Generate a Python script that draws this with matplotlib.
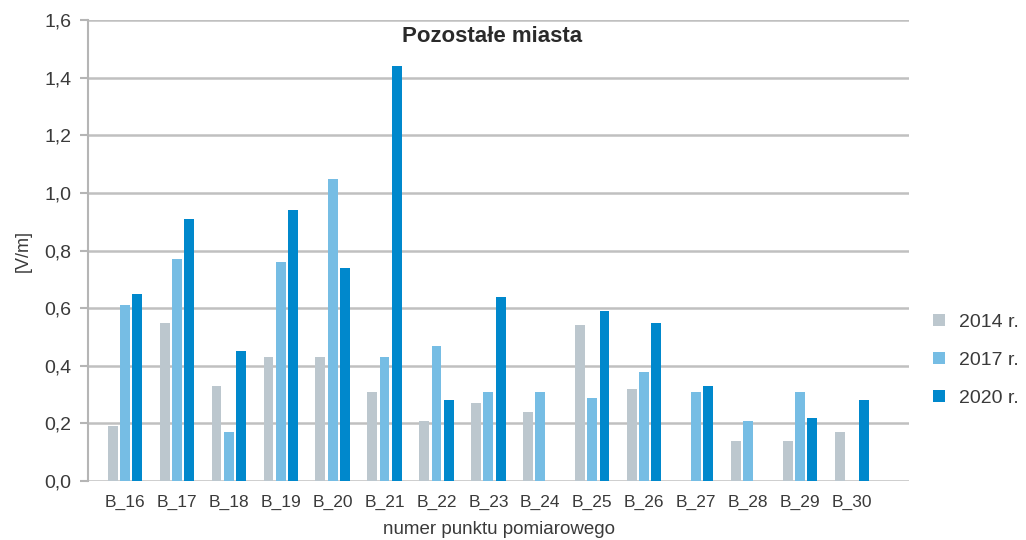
import matplotlib.pyplot as plt
import numpy as np

plt.rcParams['font.family'] = ['Liberation Sans', 'DejaVu Sans']

categories = ['B_16', 'B_17', 'B_18', 'B_19', 'B_20', 'B_21', 'B_22', 'B_23',
              'B_24', 'B_25', 'B_26', 'B_27', 'B_28', 'B_29', 'B_30']
v2014 = [0.19, 0.55, 0.33, 0.43, 0.43, 0.31, 0.21, 0.27, 0.24, 0.54, 0.32, np.nan, 0.14, 0.14, 0.17]
v2017 = [0.61, 0.77, 0.17, 0.76, 1.05, 0.43, 0.47, 0.31, 0.31, 0.29, 0.38, 0.31, 0.21, 0.31, np.nan]
v2020 = [0.65, 0.91, 0.45, 0.94, 0.74, 1.44, 0.28, 0.64, np.nan, 0.59, 0.55, 0.33, np.nan, 0.22, 0.28]
series = ['2014 r.', '2017 r.', '2020 r.']
colors = ['#bcc7ce', '#76bde4', '#0088cc']
yticks = [0.0, 0.2, 0.4, 0.6, 0.8, 1.0, 1.2, 1.4, 1.6]

txt = '#3a3a3a'
fig = plt.figure(figsize=(10.26, 5.4), dpi=100)
ax = fig.add_axes([0.0858, 0.109, 0.8002, 0.854])

x = np.arange(len(categories))
w = 0.19
off = 0.235
for i, (vals, lab, c) in enumerate(zip([v2014, v2017, v2020], series, colors)):
    ax.bar(x + (i - 1) * off, vals, width=w, color=c, label=lab, zorder=3)

ax.set_xlim(-0.71, 15.1)
ax.set_ylim(0, 1.6)
ax.set_yticks(yticks)
ax.set_yticklabels([('%.1f' % t).replace('.', ',') for t in yticks], fontsize=14, color=txt)
ax.set_xticks(x)
ax.set_xticklabels(categories, fontsize=12.5, color=txt)
ax.tick_params(axis='x', length=0, pad=10)
ax.tick_params(axis='y', length=6, width=1.5, color='#b5b5b5', pad=6)
ax.grid(axis='y', color='#c0c0c0', linewidth=1.8, zorder=0)
for s in ['top', 'right', 'bottom']:
    ax.spines[s].set_visible(False)
ax.spines['left'].set_color('#b5b5b5')
ax.spines['left'].set_linewidth(1.5)

ax.set_ylabel('[V/m]', fontsize=13, color=txt, labelpad=9)
ax.set_xlabel('numer punktu pomiarowego', fontsize=13.5, color=txt, labelpad=8)
fig.text(492 / 1026, 1 - 37 / 540, 'Pozostałe miasta', ha='center', va='center',
         fontsize=16, fontweight='bold', color='#2a2a2a')

leg = ax.legend(loc='center left', bbox_to_anchor=(1.008, 0.262), frameon=False,
                fontsize=14, handlelength=0.6, handleheight=0.6, handletextpad=0.75,
                labelspacing=1.08, labelcolor=txt)

fig.savefig('out.png', dpi=100)
